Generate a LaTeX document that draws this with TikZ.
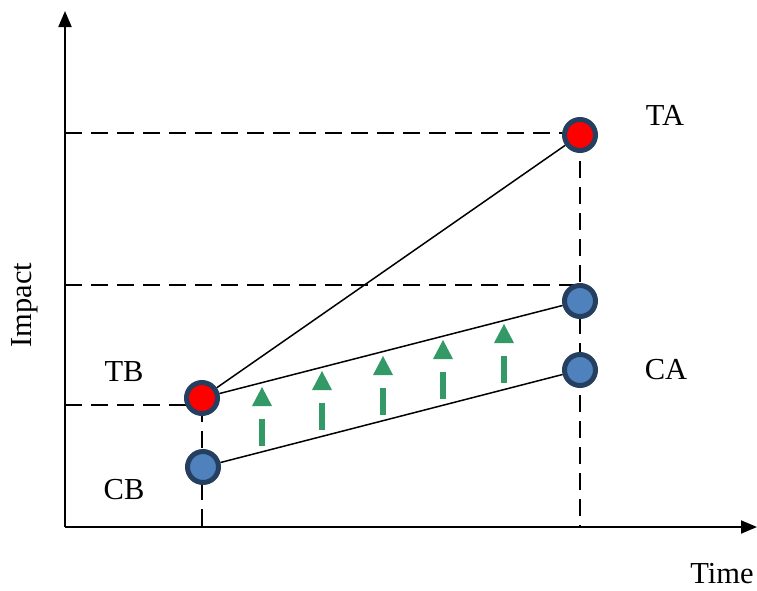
\documentclass[tikz,border=0pt]{standalone}
\usepackage{fontspec}
\setmainfont{Liberation Serif}
\usetikzlibrary{arrows.meta}
\definecolor{ptred}{HTML}{FF0000}
\definecolor{ptblue}{HTML}{4F81BD}
\definecolor{ptedge}{HTML}{243F60}
\definecolor{ptgreen}{HTML}{339966}
\tikzset{
  axis/.style={line width=2pt,-{Triangle[length=16pt,width=13pt]}},
  guide/.style={line width=1.5pt,dash pattern=on 17pt off 9pt},
  link/.style={line width=1.5pt},
  redpt/.style={circle,draw=ptedge,line width=5pt,fill=ptred,minimum size=31pt,inner sep=0pt},
  bluept/.style={circle,draw=ptedge,line width=5pt,fill=ptblue,minimum size=31pt,inner sep=0pt},
  lab/.style={font=\fontsize{30.5}{36}\selectfont,inner sep=0pt,anchor=base},
  tri/.style={fill=ptgreen},
  bar/.style={fill=ptgreen}
}
\begin{document}
\begin{tikzpicture}[x=1pt,y=-1pt]
\useasboundingbox (0,0) rectangle (757,590);
\coordinate (O) at (65,527);
\coordinate (Ytip) at (65,11);
\coordinate (Xtip) at (757,527);
% dashed guides
\coordinate (h1a) at (65,133); \coordinate (h1b) at (580,133);
\coordinate (h2a) at (65,285); \coordinate (h2b) at (580,285);
\coordinate (h3a) at (65,405); \coordinate (h3b) at (202,405);
\coordinate (v1a) at (202,405); \coordinate (v1b) at (202,527);
\coordinate (v2a) at (580,135); \coordinate (v2b) at (580,527);
\draw[guide] (h1a) -- (h1b);
\draw[guide] (h2a) -- (h2b);
\draw[guide] (h3a) -- (h3b);
\draw[guide] (v1a) -- (v1b);
\draw[guide] (v2a) -- (v2b);
\draw[axis] (O) -- (Ytip);
\draw[axis] (O) -- (Xtip);
% points
\node[redpt] (TB) at (202,398) {};
\node[bluept] (CB) at (203,467) {};
\node[redpt] (TA) at (580,135) {};
\node[bluept] (TA2) at (580,301) {};
\node[bluept] (CA) at (580,370) {};
\draw[link] (TB) -- (TA);
\draw[link] (TB) -- (TA2);
\draw[link] (CB) -- (CA);
% green arrows
\foreach \x/\y in {262/397,322/381,383/366,443/350,504/334}{
  \fill[tri] (\x-10,\y+9) -- (\x+10,\y+9) -- (\x,\y-10) -- cycle;
  \fill[bar] (\x-3,\y+22) rectangle (\x+3,\y+49);
}
% labels
\node[lab] (lTA) at (665,125) {TA};
\node[lab] (lCA) at (666,379) {CA};
\node[lab] (lTB) at (124,381) {TB};
\node[lab] (lCB) at (124,499) {CB};
\node[lab] (lTime) at (722,583) {Time};
\node[lab,rotate=90] (lImp) at (31,305) {Impact};
\end{tikzpicture}
\end{document}
